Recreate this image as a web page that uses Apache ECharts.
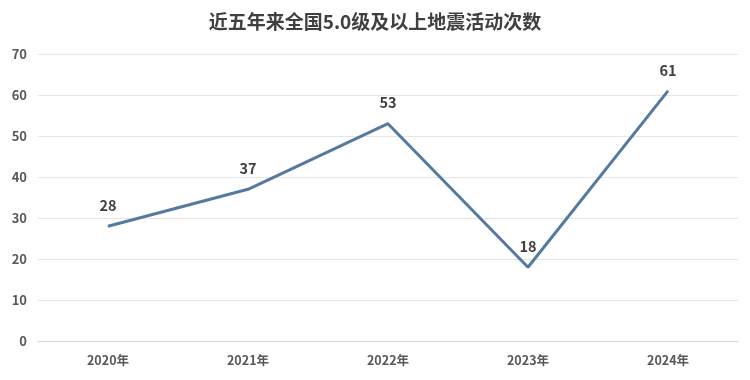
<!DOCTYPE html>
<html><head><meta charset="utf-8">
<script src="https://cdn.jsdelivr.net/npm/echarts@6/dist/echarts.min.js"></script>
<style>html,body{margin:0;padding:0;background:#fff}#c{width:750px;height:380px}</style>
</head><body><div id="c"></div>
<script>
const titleText = '近五年来全国5.0级及以上地震活动次数';
const categories = ['2020年','2021年','2022年','2023年','2024年'];
const counts = [28, 37, 53, 18, 61];
const yTicks = {min:0, max:70, interval:10};

const font = '"Noto Sans CJK SC", "Noto Sans", sans-serif';
const chart = echarts.init(document.getElementById('c'), null, {renderer:'canvas'});
chart.setOption({
  animation:false,
  backgroundColor:'#fff',
  title:{text:titleText,left:'center',top:7,textStyle:{fontFamily:font,fontSize:19,fontWeight:'bold',color:'#404040'}},
  grid:{left:38,right:12,top:54,bottom:39},
  xAxis:{type:'category',data:categories,boundaryGap:true,
    axisLine:{lineStyle:{color:'#d9d9d9',width:1}},axisTick:{show:false},
    axisLabel:{fontFamily:font,fontSize:12.5,fontWeight:'bold',color:'#595959',margin:13}},
  yAxis:{type:'value',min:yTicks.min,max:yTicks.max,interval:yTicks.interval,
    axisLine:{show:false},axisTick:{show:false},
    splitLine:{lineStyle:{color:'#e6e6e6',width:1}},
    axisLabel:{fontFamily:font,fontSize:13,fontWeight:'bold',color:'#595959',margin:11}},
  series:[{type:'line',data:counts,showSymbol:true,symbol:'circle',symbolSize:1,
    itemStyle:{color:'#557a9f'},
    lineStyle:{color:'#557a9f',width:3},
    label:{show:true,position:'top',distance:13,fontFamily:font,fontSize:14.5,fontWeight:'bold',color:'#404040'}}]
});
</script></body></html>
